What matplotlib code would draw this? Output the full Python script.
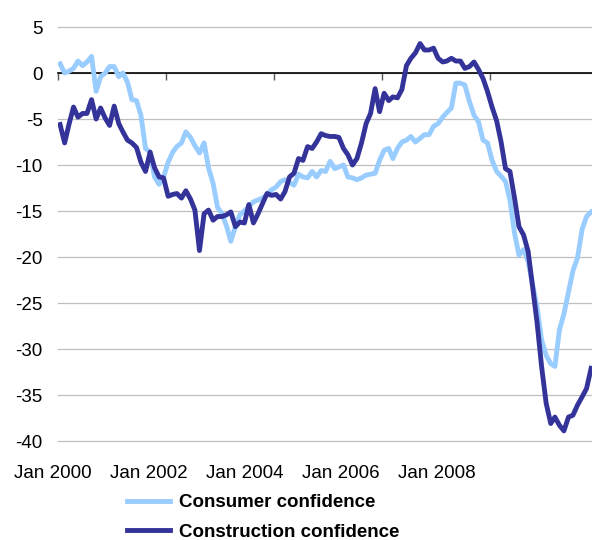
import matplotlib
matplotlib.use("Agg")
import matplotlib.pyplot as plt
import matplotlib.dates as mdates
import pandas as pd

plt.rcParams['font.family'] = ['Liberation Sans', 'DejaVu Sans']
plt.rcParams['axes.unicode_minus'] = False

# monthly confidence indicators, Jan 2000 - Nov 2009
consumer = [1.0, 0.0, 0.2, 0.5, 1.3, 0.8, 1.2, 1.8, -2.0, -0.4,
            0.0, 0.7, 0.7, -0.4, 0.0, -1.0, -2.9, -3.0, -4.6, -8.2,
            -8.6, -11.3, -12.1, -11.3, -9.7, -8.6, -8.0, -7.6, -6.4, -7.0,
            -7.9, -8.7, -7.6, -10.3, -12.0, -14.6, -15.3, -16.7, -18.3, -16.7,
            -15.4, -15.0, -14.5, -14.0, -13.8, -13.6, -13.2, -12.7, -12.4, -11.8,
            -11.6, -11.9, -12.2, -11.0, -11.3, -11.4, -10.7, -11.3, -10.6, -10.7,
            -9.6, -10.4, -10.2, -10.0, -11.3, -11.4, -11.6, -11.4, -11.1, -11.0,
            -10.9, -9.5, -8.4, -8.2, -9.3, -8.2, -7.5, -7.3, -6.9, -7.5,
            -7.1, -6.7, -6.7, -5.8, -5.5, -4.8, -4.3, -3.8, -1.1, -1.1,
            -1.3, -3.1, -4.6, -5.3, -7.3, -7.6, -9.5, -10.7, -11.2, -11.8,
            -13.8, -17.4, -19.8, -19.2, -20.5, -23.0, -25.5, -29.0, -30.7, -31.6,
            -31.9, -27.9, -26.2, -23.8, -21.5, -20.1, -17.0, -15.6, -15.1]
construction = [-5.6, -7.6, -5.6, -3.7, -4.8, -4.4, -4.4, -2.9, -5.0, -3.8,
                -4.9, -5.7, -3.6, -5.5, -6.4, -7.3, -7.6, -8.1, -9.7, -10.7,
                -8.6, -10.3, -11.3, -11.4, -13.4, -13.2, -13.1, -13.6, -12.8, -13.7,
                -14.9, -19.3, -15.3, -14.9, -16.0, -15.6, -15.6, -15.4, -15.1, -16.7,
                -16.2, -16.3, -14.3, -16.3, -15.3, -14.2, -13.1, -13.3, -13.2, -13.7,
                -12.9, -11.3, -10.9, -9.3, -9.5, -8.0, -8.2, -7.5, -6.6, -6.8,
                -6.9, -6.9, -7.0, -8.2, -8.9, -10.0, -9.3, -7.6, -5.5, -4.4,
                -1.7, -4.2, -2.2, -3.0, -2.6, -2.7, -1.8, 0.8, 1.6, 2.2,
                3.2, 2.5, 2.5, 2.7, 1.6, 1.2, 1.3, 1.6, 1.3, 1.3,
                0.5, 0.7, 1.2, 0.4, -0.6, -2.0, -3.7, -5.2, -7.4, -10.4,
                -10.7, -13.6, -16.7, -17.6, -19.4, -23.2, -27.2, -31.9, -35.9, -38.1,
                -37.4, -38.3, -38.9, -37.4, -37.2, -36.1, -35.2, -34.3, -32.1]
months = pd.date_range('2000-01-01', periods=len(consumer), freq='MS') + pd.Timedelta(days=14)
tick_years = [2000, 2002, 2004, 2006, 2008]
tick_labels = ['Jan %d' % y for y in tick_years]
labels = ['Consumer confidence', 'Construction confidence']

fig = plt.figure(figsize=(5.92, 5.40), dpi=100)
ax = fig.add_axes([58 / 592, 99 / 540, 534 / 592, 414 / 540])

l1, = ax.plot(months, consumer, color='#99CCFF', lw=3.5, solid_joinstyle='round', zorder=3)
l2, = ax.plot(months, construction, color='#333399', lw=3.5, solid_joinstyle='round', zorder=4)

ax.set_xlim(pd.Timestamp('2000-01-01'), pd.Timestamp('2009-11-21'))
ax.set_ylim(-40, 5)
ax.set_yticks(range(-40, 6, 5))
ax.yaxis.grid(True, color='#BFBFBF', lw=0.9, clip_on=False)
ax.set_axisbelow(True)

for s in ['left', 'right', 'top']:
    ax.spines[s].set_visible(False)
ax.spines['bottom'].set_position(('data', 0))
ax.spines['bottom'].set_linewidth(1.2)
ax.spines['bottom'].set_zorder(2)

ax.set_xticks([mdates.date2num(pd.Timestamp('%d-01-01' % y)) for y in tick_years])
ax.tick_params(axis='x', direction='out', length=5, width=1, color='#555555', labelbottom=False)
ax.tick_params(axis='y', length=0, pad=11, labelsize=13.5)

# category labels sit slightly off the tick marks, as in the original
for k, t in enumerate(tick_labels):
    ax.text(-0.009 + 0.1795 * k, -0.078, t, transform=ax.transAxes,
            ha='center', va='center', fontsize=13.5)

fig.legend([l1, l2], labels, loc='upper left', bbox_to_anchor=(127 / 592, 46 / 540),
           frameon=False, borderpad=0, borderaxespad=0, handlelength=2.3,
           handletextpad=0.45, labelspacing=0.68,
           prop={'size': 13.5, 'weight': 'bold'})

fig.savefig('out.png', dpi=100)
